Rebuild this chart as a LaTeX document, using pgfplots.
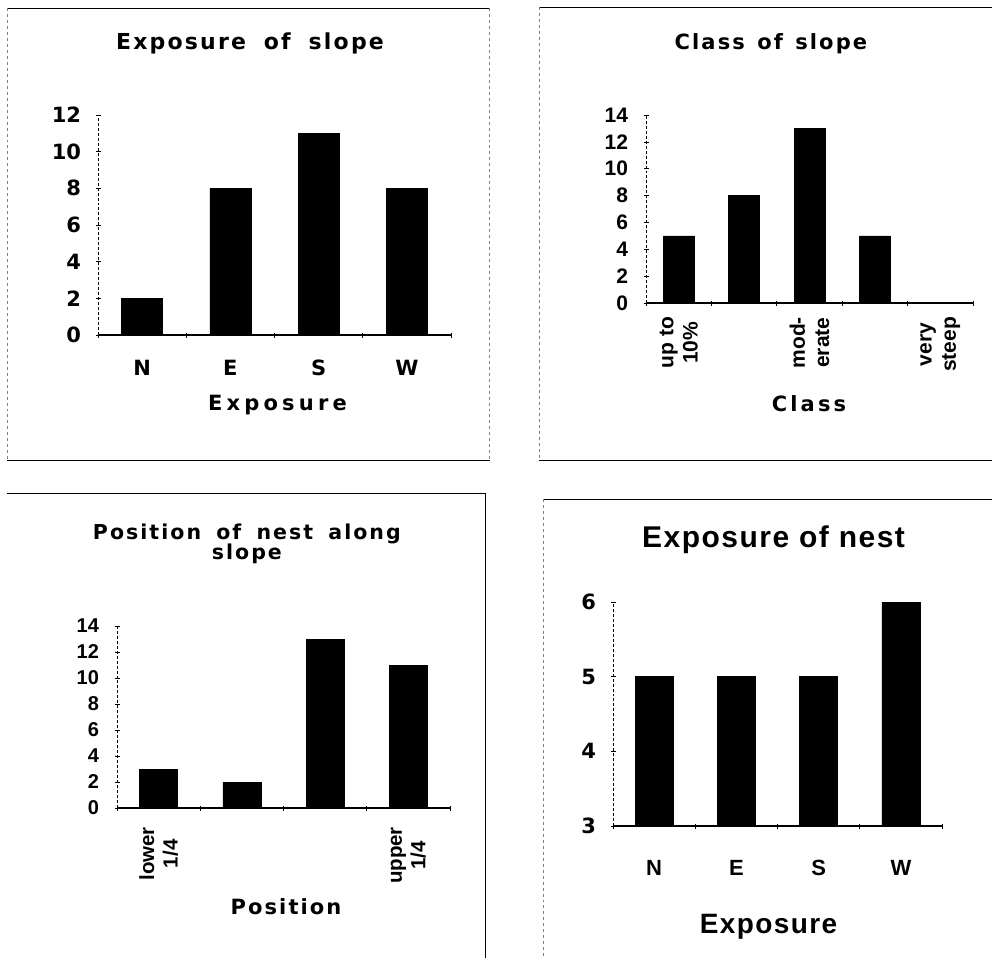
\documentclass[border=0pt]{standalone}
\usepackage{fontspec}
\setmainfont{Liberation Sans}
\newfontfamily\dv{DejaVu Sans}
\newfontfamily\dvA{DejaVu Sans}[LetterSpace=10]
\newfontfamily\dvB{DejaVu Sans}[LetterSpace=15]
\newfontfamily\dvC{DejaVu Sans}[LetterSpace=20]
\newfontfamily\lspaced{Liberation Sans}[LetterSpace=5]
\usepackage{pgfplots}
\pgfplotsset{compat=1.18}
\newcommand{\fs}[1]{\fontsize{#1bp}{1.15\dimexpr#1bp\relax}\selectfont}
\pgfplotsset{
  panel/.style={
    scale only axis, anchor=south west,
    axis x line=bottom, axis y line=left,
    axis line style={-},
    x axis line style={line width=1.3bp},
    y axis line style={line width=0.5bp, densely dashed},
    tick align=center,
    major tick length=5bp, minor tick length=5bp,
    major x tick style={draw=none},
    tick style={black, line width=0.7bp},
    /pgf/number format/assume math mode=true,
    yticklabel style={font=\bfseries\fs{21}, xshift=-11bp},
    clip=true,
  },
}
\begin{document}
\begin{tikzpicture}
\path[use as bounding box] (0,0) rectangle (992bp,-958bp);
% frames
\draw[line width=0.8bp] (7bp,-8bp) -- (490bp,-8bp);
\draw[line width=0.8bp] (7bp,-460bp) -- (490bp,-460bp);
\draw[line width=0.4bp, gray, dashed] (7bp,-8bp) -- (7bp,-460bp);
\draw[line width=0.4bp, gray, dashed] (489bp,-8bp) -- (489bp,-460bp);
\draw[line width=0.8bp] (539bp,-7bp) -- (992bp,-7bp);
\draw[line width=0.8bp] (539bp,-460bp) -- (992bp,-460bp);
\draw[line width=0.4bp, gray, dashed] (539bp,-7bp) -- (539bp,-460bp);
\draw[line width=0.8bp] (7bp,-493bp) -- (485bp,-493bp);
\draw[line width=0.8bp] (485bp,-493bp) -- (485bp,-958bp);
\draw[line width=0.8bp] (543bp,-499bp) -- (992bp,-499bp);
\draw[line width=0.4bp, gray, dashed] (543bp,-499bp) -- (543bp,-958bp);

% Panel 1
\begin{axis}[panel, at={(98bp,-335bp)}, width=353bp, height=220bp,
  xmin=0, xmax=4, ymin=0, ymax=12, ytick={0,2,...,12},
  xtick={0.5,1.5,2.5,3.5}, xticklabels={N,E,S,W},
  minor xtick={0,1,2,3,4},
  yticklabel style={font=\dv\bfseries\fs{21}},
  xticklabel style={font=\dv\bfseries\fs{21}, anchor=base, yshift=-38bp},
  title={Exposure\hspace{8bp} of\hspace{8bp} slope},
  title style={at={(axis description cs:0.4306,1)}, anchor=base, yshift=60bp, font=\dvA\bfseries\fs{22}},
  xlabel={Exposure},
  xlabel style={at={(axis description cs:0.5085,0)}, anchor=base, yshift=-75bp, font=\dvC\bfseries\fs{21}},
  bar width=41bp]
\addplot[ybar, fill=black, draw=black] coordinates {(0.5,2) (1.5,8) (2.5,11) (3.5,8)};
\end{axis}

% Panel 2
\begin{axis}[panel, at={(646bp,-303bp)}, width=327bp, height=188bp,
  xmin=0, xmax=5, ymin=0, ymax=14, ytick={0,2,...,14},
  xtick={0.5,2.5,4.5}, xticklabels={{up to\\10\%},{mod-\\erate},{very\\steep}},
  minor xtick={0,1,2,3,4,5},
  xticklabel style={font=\bfseries\fs{21}, yshift=-8bp, rotate=90, anchor=east, align=center},
  yticklabel style={xshift=-1bp},
  title={Class\hspace{3bp} of\hspace{3bp} slope},
  title style={at={(axis description cs:0.382,1)}, anchor=base, yshift=60bp, font=\dvA\bfseries\fs{21}},
  xlabel={Class},
  xlabel style={at={(axis description cs:0.4985,0)}, anchor=base, yshift=-108bp, font=\dvB\bfseries\fs{21}},
  bar width=31bp]
\addplot[ybar, fill=black, draw=black] coordinates {(0.5,5) (1.5,8) (2.5,13) (3.5,5) (4.5,0)};
\end{axis}

% Panel 3
\begin{axis}[panel, at={(117bp,-808bp)}, width=333bp, height=182bp,
  xmin=0, xmax=4, ymin=0, ymax=14, ytick={0,2,...,14},
  xtick={0.5,3.5}, xticklabels={{lower\\1/4},{upper\\1/4}},
  minor xtick={0,1,2,3,4},
  xticklabel style={font=\bfseries\fs{20.5}, yshift=-13bp, rotate=90, anchor=east, align=center},
  yticklabel style={font=\bfseries\fs{20}, xshift=-1bp},
  title={Position\hspace{6bp} of\hspace{6bp} nest\hspace{6bp} along\\[-4bp]slope},
  title style={at={(axis description cs:0.39,1)}, anchor=base, align=center, yshift=61bp, font=\dvA\bfseries\fs{20.5}},
  xlabel={Position},
  xlabel style={at={(axis description cs:0.5075,0)}, anchor=base, yshift=-106bp, font=\dvA\bfseries\fs{21}},
  bar width=38bp]
\addplot[ybar, fill=black, draw=black] coordinates {(0.5,3) (1.5,2) (2.5,13) (3.5,11)};
\end{axis}

% Panel 4
\begin{axis}[panel, at={(613bp,-826bp)}, width=329bp, height=224bp,
  xmin=0, xmax=4, ymin=3, ymax=6, ytick={3,4,5,6},
  xtick={0.5,1.5,2.5,3.5}, xticklabels={N,E,S,W},
  minor xtick={0,1,2,3,4},
  yticklabel style={font=\dv\bfseries\fs{21}},
  xticklabel style={font=\bfseries\fs{22}, anchor=base, yshift=-47bp},
  title={Exposure of nest},
  title style={at={(axis description cs:0.488,1)}, anchor=base, yshift=49bp, font=\lspaced\bfseries\fs{30}},
  xlabel={Exposure},
  xlabel style={at={(axis description cs:0.4726,0)}, anchor=base, yshift=-107bp, font=\lspaced\bfseries\fs{28}},
  bar width=38bp]
\addplot[ybar, fill=black, draw=black] coordinates {(0.5,5) (1.5,5) (2.5,5) (3.5,6)};
\end{axis}
\end{tikzpicture}
\end{document}
